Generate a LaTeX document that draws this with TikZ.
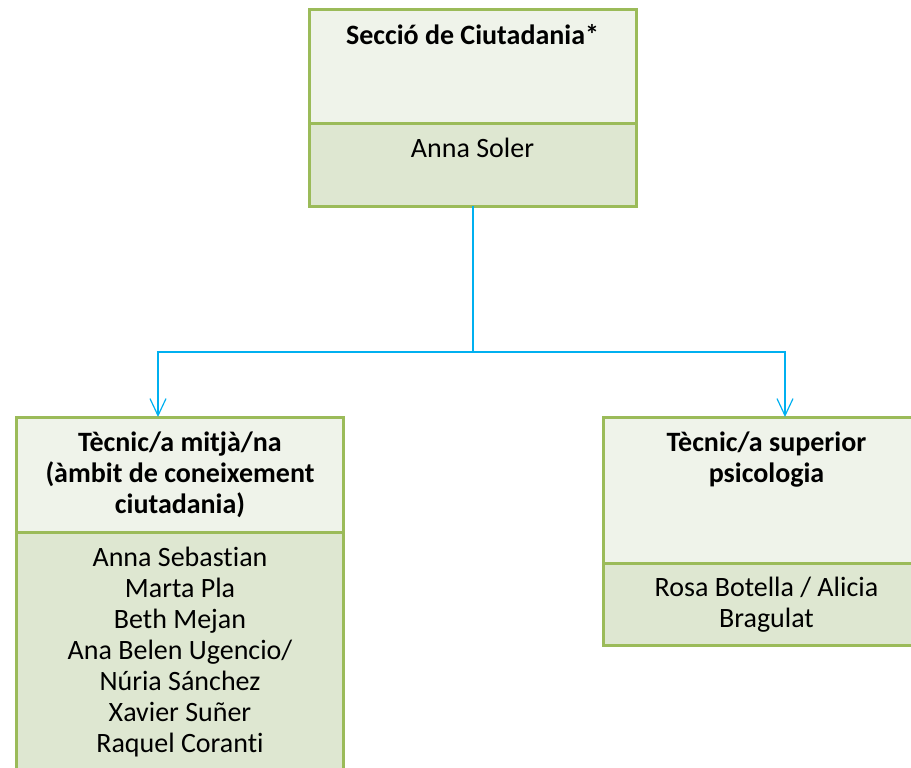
\documentclass[tikz,border=0pt]{standalone}
\usepackage{fontspec}
\setmainfont{Carlito}[Ligatures=NoCommon]
\usetikzlibrary{arrows.meta,positioning}
\definecolor{boxline}{HTML}{9BBB59}
\definecolor{headfill}{HTML}{EFF3EA}
\definecolor{namefill}{HTML}{DEE7D1}
\definecolor{linkblue}{HTML}{00B0F0}

\tikzset{
  headbox/.style={draw=boxline, fill=headfill, line width=3pt, minimum width=327pt,
    inner sep=0pt, outer sep=0pt, anchor=north},
  namebox/.style={draw=boxline, fill=namefill, line width=3pt, minimum width=327pt,
    inner sep=0pt, outer sep=0pt, anchor=north},
  boxtext/.style={align=center, inner sep=0pt, anchor=north,
    font=\fontsize{28}{31}\selectfont},
  headtext/.style={boxtext, font=\fontsize{28}{31}\selectfont\bfseries},
  link/.style={draw=linkblue, line width=1.2pt},
}

\begin{document}
\begin{tikzpicture}[x=1pt,y=1pt]
  \useasboundingbox (0,0) rectangle (911,-768);
  \clip (0,0) rectangle (911,-768);

  % section box
  \node[headbox, minimum height=113pt] (sec) at (472.5,-10) {};
  \node[namebox, minimum height=83pt] (secn) at (sec.south) {};
  \node[headtext, below=14pt of sec.north] (sect) {Secció de Ciutadania*};
  \node[boxtext, below=15pt of secn.north] (secnt) {Anna Soler};

  % left box
  \node[headbox, minimum height=115pt] (tec) at (180,-417) {};
  \node[namebox, minimum height=260pt] (tecn) at (tec.south) {};
  \node[headtext, below=15pt of tec.north] (tect)
    {Tècnic/a mitjà/na\\(àmbit de coneixement\\ciutadania)};
  \node[boxtext, below=15pt of tecn.north] (tecnt)
    {Anna Sebastian\\Marta Pla\\Beth Mejan\\Ana Belen Ugencio/\\Núria Sánchez\\Xavier Suñer\\Raquel Coranti};

  % right box
  \node[headbox, minimum height=146pt] (psi) at (766.5,-417) {};
  \node[namebox, minimum height=82pt] (psin) at (psi.south) {};
  \node[headtext, below=15pt of psi.north] (psit) {Tècnic/a superior\\psicologia};
  \node[boxtext, below=14pt of psin.north] (psint) {Rosa Botella / Alicia\\Bragulat};

  % connectors
  \coordinate (fork) at (472.5,-352);
  \coordinate (tecin) at (158,-417);
  \coordinate (psiin) at (785,-417);
  \draw[link, line width=2pt] (secn.south) -- (fork);
  \draw[link, -{Straight Barb[length=17pt,width=16pt]}] (fork) -| (tecin);
  \draw[link, -{Straight Barb[length=17pt,width=16pt]}] (fork) -| (psiin);
\end{tikzpicture}
\end{document}
